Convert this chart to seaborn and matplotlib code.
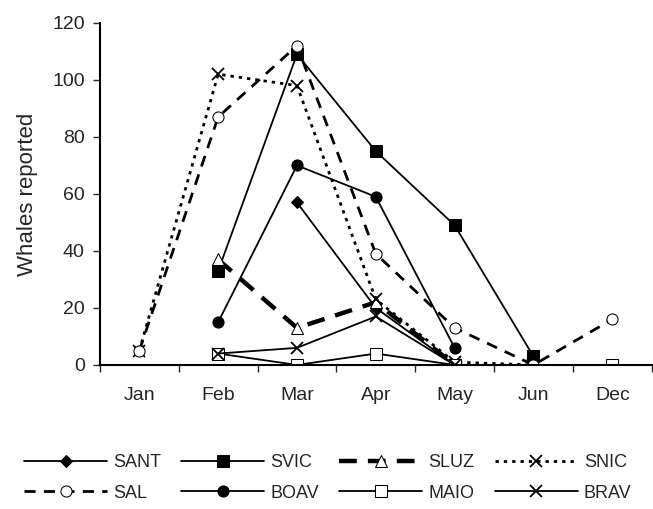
import numpy as np
import pandas as pd
import matplotlib
matplotlib.use("Agg")
import matplotlib.pyplot as plt
import seaborn as sns

# months on the x axis
months = ["Jan", "Feb", "Mar", "Apr", "May", "Jun", "Dec"]

# whales reported per island (nan = not reported)
nan = np.nan
sant = [nan, nan, 57, 20, 0, nan, nan]
svic = [nan, 33, 109, 75, 49, 3, nan]
sluz = [nan, 37, 13, 22, 0, nan, nan]
snic = [5, 102, 98, 23, 1, 0, nan]
sal = [5, 87, 112, 39, 13, 0, 16]
boav = [nan, 15, 70, 59, 6, nan, nan]
maio = [nan, 4, 0, 4, 0, nan, 0]
brav = [nan, 4, 6, 17, 0, nan, nan]

series = {
    "SANT": sant, "SVIC": svic, "SLUZ": sluz, "SNIC": snic,
    "SAL": sal, "BOAV": boav, "MAIO": maio, "BRAV": brav,
}

# line / marker style for each island
styles = {
    "SANT": dict(lw=1.3, ls="-", marker="D", ms=6, mfc="black"),
    "SVIC": dict(lw=1.3, ls="-", marker="s", ms=9, mfc="black"),
    "SLUZ": dict(lw=3.2, ls=(0, (4, 2.5)), marker="^", ms=8, mfc="white"),
    "SNIC": dict(lw=2.0, ls=(0, (1.2, 1.8)), marker="x", ms=8, mew=1.3, mfc="none"),
    "SAL": dict(lw=2.0, ls=(0, (4, 3)), marker="o", ms=8, mfc="white"),
    "BOAV": dict(lw=1.3, ls="-", marker="o", ms=8, mfc="black"),
    "MAIO": dict(lw=1.3, ls="-", marker="s", ms=8, mfc="white"),
    "BRAV": dict(lw=1.3, ls="-", marker="x", ms=8, mew=1.3, mfc="none"),
}

sns.set_style("white")
plt.rcParams["font.family"] = ["Liberation Sans", "DejaVu Sans"]
plt.rcParams["font.size"] = 14

fig = plt.figure(figsize=(6.53, 5.09), dpi=100)
ax = fig.add_axes([0.153, 0.283, 0.845, 0.672])

x = np.arange(len(months))
for name, vals in series.items():
    df = pd.DataFrame({"x": x, "y": vals})
    # split into contiguous runs so gaps are not joined
    run_id = df["y"].isna().cumsum()
    first = True
    for _, run in df.dropna().groupby(run_id[df["y"].notna()]):
        sns.lineplot(data=run, x="x", y="y", ax=ax, color="black",
                     mec="black", label=name if first else None,
                     legend=False, **styles[name])
        first = False

ax.set_xlim(-0.5, 6.5)
ax.set_ylim(0, 120)
ax.set_yticks(range(0, 121, 20))
ax.set_xticks(x)
ax.set_xticklabels(months)
ax.set_xticks(np.arange(-0.5, 6.6, 1), minor=True)
ax.tick_params(axis="x", which="major", length=0, pad=16, labelsize=14)
ax.tick_params(axis="x", which="minor", length=5, width=1, direction="out", bottom=True)
ax.tick_params(axis="y", length=5, width=1, direction="out", left=True, pad=6, labelsize=14)
ax.set_xlabel("")
ax.set_ylabel("Whales reported", labelpad=10, fontsize=16)
for s in ["top", "right"]:
    ax.spines[s].set_visible(False)
for s in ["left", "bottom"]:
    ax.spines[s].set_color("black")
    ax.spines[s].set_linewidth(1.5)

# legend is filled column by column, so reorder to read row by row
handles, labels = ax.get_legend_handles_labels()
lookup = dict(zip(labels, handles))
order = ["SANT", "SAL", "SVIC", "BOAV", "SLUZ", "MAIO", "SNIC", "BRAV"]
fig.legend([lookup[k] for k in order], order, ncol=4, loc="upper left",
           bbox_to_anchor=(0.012, 0.14), frameon=False, handlelength=4.6,
           columnspacing=1.1, handletextpad=0.35, labelspacing=0.75, fontsize=13)

fig.savefig("out.png", dpi=100)
